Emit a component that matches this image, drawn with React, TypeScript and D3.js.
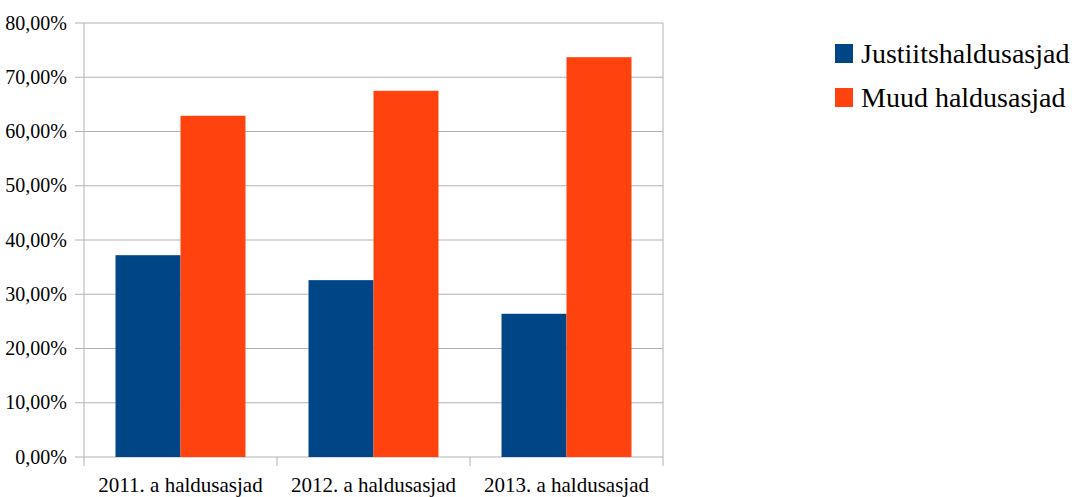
import React from "react";
import * as d3 from "d3";

const categories = ["2011. a haldusasjad", "2012. a haldusasjad", "2013. a haldusasjad"];
const seriesNames = ["Justiitshaldusasjad", "Muud haldusasjad"];
const justiits = [0.372, 0.326, 0.264];
const muud = [0.629, 0.675, 0.737];
const yTicks = [0, 0.1, 0.2, 0.3, 0.4, 0.5, 0.6, 0.7, 0.8];
const colors = ["#004586", "#ff420e"];

const FONT = "Liberation Serif";

export default function App() {
  const W = 1079, H = 497;
  const left = 84, right = 663, top = 23, bottom = 457;
  const x = d3.scaleBand<string>().domain(categories).range([left, right]).paddingInner(0).paddingOuter(0);
  const inner = d3.scaleBand<string>().domain(seriesNames).range([0, x.bandwidth()]).paddingOuter(0.485).paddingInner(0);
  const y = d3.scaleLinear().domain([0, 0.8]).range([bottom, top]);
  const fmt = (v: number) => (v * 100).toFixed(2).replace(".", ",") + "%";
  const series = [justiits, muud];
  const grid = "#b3b3b3";
  return (
    <svg width={W} height={H} style={{ position: "absolute", left: 0, top: 0 }}>
      {yTicks.map((t) => (
        <g key={t}>
          <line x1={left - 9} x2={right} y1={y(t)} y2={y(t)} stroke={grid} strokeWidth={1} />
          <text x={67} y={y(t)} dy="0.33em" textAnchor="end" fontSize={20} fontFamily={FONT} style={{ fontFamily: FONT }}>
            {fmt(t)}
          </text>
        </g>
      ))}
      <line x1={left} x2={left} y1={top} y2={bottom + 9} stroke={grid} />
      <line x1={right} x2={right} y1={top} y2={bottom + 9} stroke={grid} />
      {categories.slice(1).map((c) => (
        <line key={c} x1={x(c)!} x2={x(c)!} y1={bottom} y2={bottom + 9} stroke={grid} />
      ))}
      {categories.map((c, i) => (
        <g key={c}>
          {series.map((s, j) => (
            <rect
              key={j}
              x={x(c)! + inner(seriesNames[j])!}
              y={y(s[i])}
              width={inner.bandwidth()}
              height={bottom - y(s[i])}
              fill={colors[j]}
            />
          ))}
          <text x={x(c)! + x.bandwidth() / 2} y={492} textAnchor="middle" fontSize={21} fontFamily={FONT} style={{ fontFamily: FONT }}>
            {c}
          </text>
        </g>
      ))}
      {seriesNames.map((n, j) => (
        <g key={n} transform={`translate(835, ${44 + j * 44})`}>
          <rect x={0} y={0} width={18} height={19} fill={colors[j]} />
          <text x={26} y={19} fontSize={28} fontFamily={FONT} style={{ fontFamily: FONT }}>
            {n}
          </text>
        </g>
      ))}
    </svg>
  );
}
